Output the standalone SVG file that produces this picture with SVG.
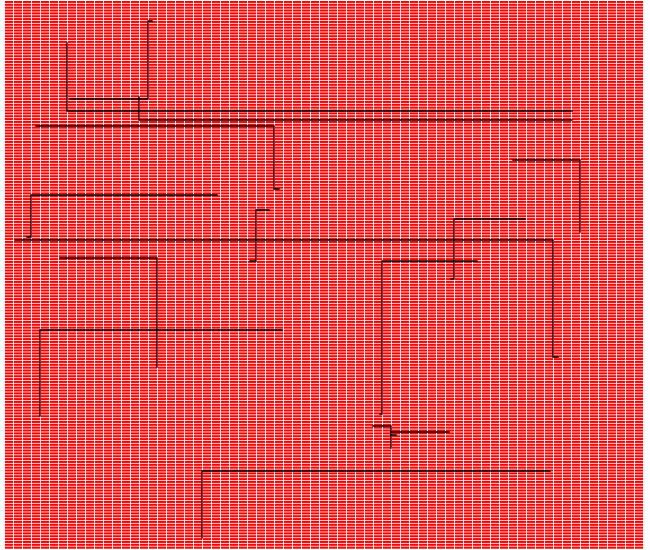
<svg xmlns="http://www.w3.org/2000/svg" width="650" height="550" viewBox="0 0 650 550">
<defs>
<pattern id="cells" x="5" y="1" width="9" height="2.857142857" patternUnits="userSpaceOnUse">
<rect x="0" y="0" width="8" height="2.1" fill="#ff0000"/>
</pattern>
<style>
.ln{fill:none;stroke:#000;stroke-width:1.4;stroke-linecap:square;stroke-linejoin:miter}
</style>
</defs>
<rect x="0" y="0" width="650" height="550" fill="#ffffff"/>
<rect id="field" x="5" y="1" width="639" height="548" fill="url(#cells)"/>
<g id="connectors">
<polyline id="pA" class="ln" points="152,21 148,21 148,99 70,99"/>
<polyline id="pB" class="ln" points="67,43 67,111 572,111"/>
<polyline id="pC" class="ln" points="139,97 139,120 572,120"/>
<polyline id="pD" class="ln" points="36,126 274,126 274,189 279,189"/>
<polyline id="pE" class="ln" points="217,195 31,195 31,237 27,237"/>
<polyline id="pF" class="ln" points="15,240 553,240 553,357 558,357"/>
<polyline id="pG" class="ln" points="269,210 256,210 256,261 250,261"/>
<polyline id="pH" class="ln" points="60,258 157,258 157,367"/>
<polyline id="pI" class="ln" points="282,330 40,330 40,416"/>
<polyline id="pJ" class="ln" points="550,471 202,471 202,538"/>
<polyline id="pK" class="ln" points="513,160 580,160 580,232"/>
<polyline id="pL" class="ln" points="525,219 454,219 454,279 451,279"/>
<polyline id="pM" class="ln" points="477,261 382,261 382,414 380,414"/>
<polyline id="pN" class="ln" points="373,426 391,426 391,448"/>
<polyline id="pO" class="ln" points="449,432 391,432"/>
<polyline id="pP" class="ln" points="391,435 396,435"/>
</g>
</svg>
